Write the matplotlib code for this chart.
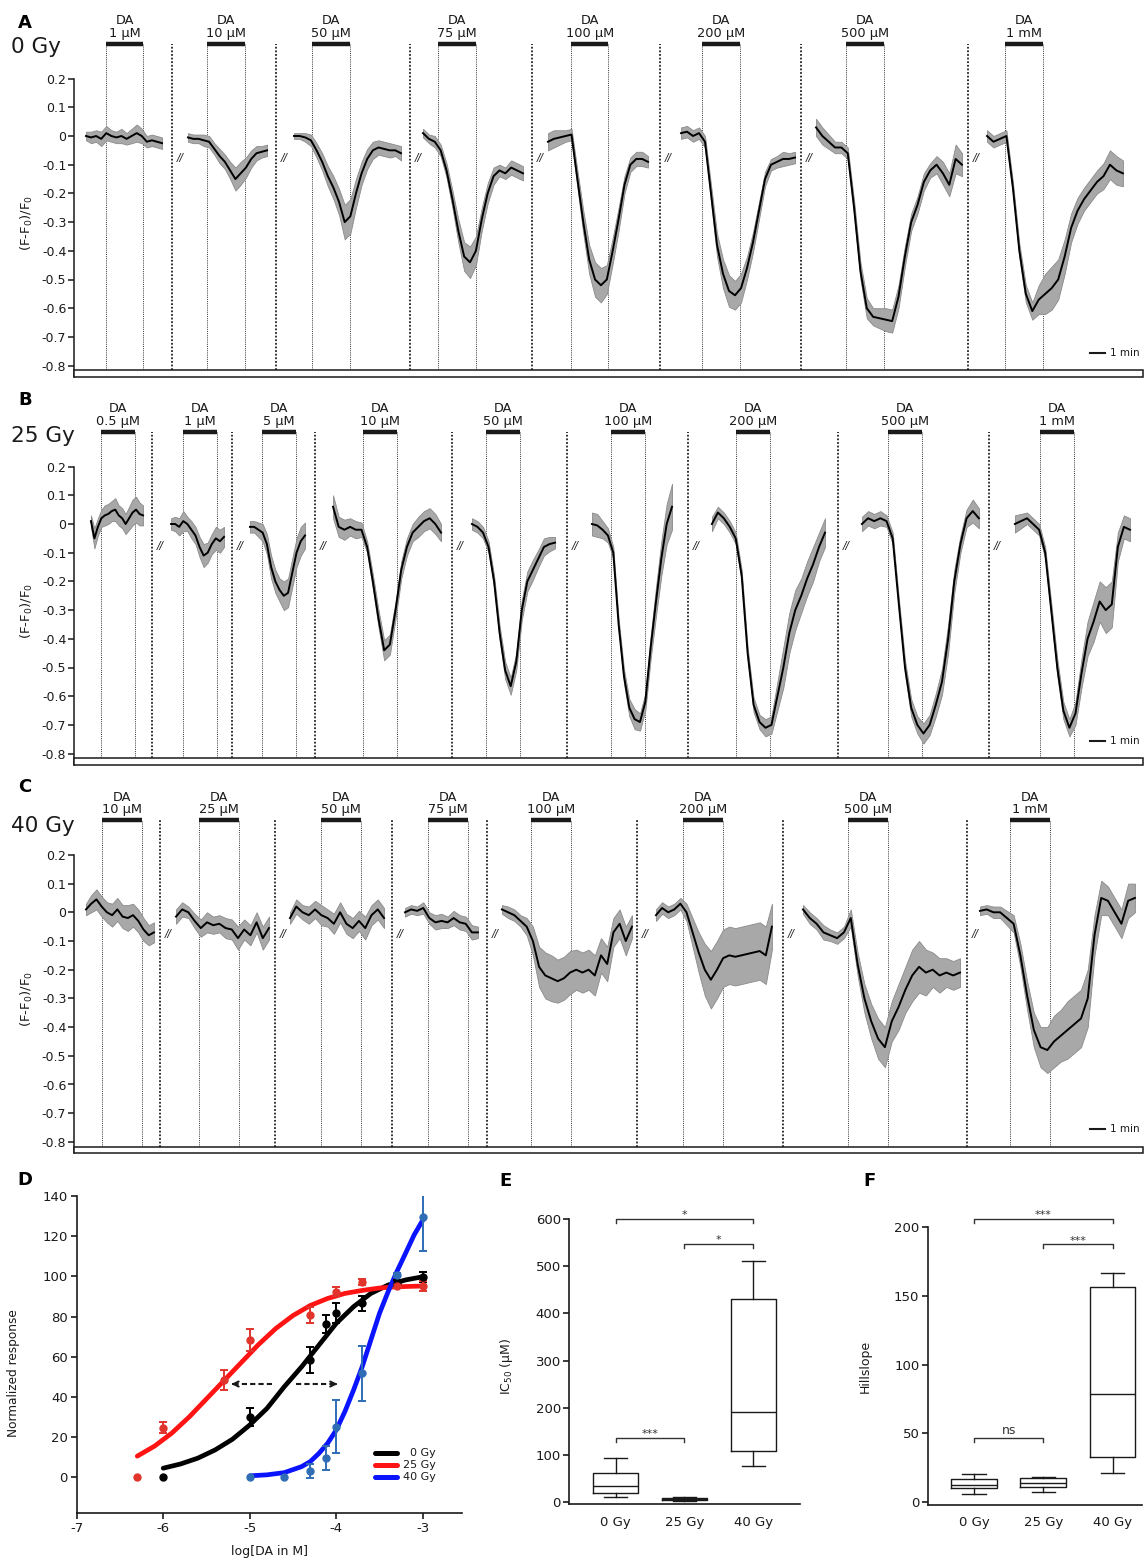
import numpy as np
import matplotlib
matplotlib.use("Agg")
import matplotlib.pyplot as plt
from matplotlib.patches import Rectangle

plt.rcParams['font.family'] = ['DejaVu Sans']
plt.rcParams['mathtext.default'] = 'regular'

W, H = 1147, 1562

# ---------------- Panel A : 0 Gy ----------------
a_conc = ["1 µM", "10 µM", "50 µM", "75 µM", "100 µM", "200 µM", "500 µM", "1 mM"]
a_trace_start = [0.8, 7.6, 14.67, 23.27, 31.6, 40.47, 49.47, 60.87]
a_trace_end = [5.87, 12.87, 21.8, 29.93, 38.27, 48.07, 59.2, 69.93]
a_da_on = [2.13, 8.87, 15.87, 24.27, 33.13, 41.87, 51.47, 62.07]
a_da_len = 2.5
a_cuts = [6.53, 13.47, 22.4, 30.53, 39.07, 48.47, 59.6]
a_mean = [
    [0, -0.005, 0.0, -0.01, 0.01, 0.0, -0.005, 0.0, -0.01, 0.0, 0.01, 0.0, -0.02, -0.015, -0.02, -0.025],
    [-0.005, -0.01, -0.01, -0.015, -0.02, -0.045, -0.07, -0.09, -0.12, -0.15, -0.13, -0.11, -0.08, -0.06, -0.055, -0.05],
    [0, 0, -0.005, -0.015, -0.05, -0.09, -0.14, -0.18, -0.23, -0.30, -0.28, -0.2, -0.13, -0.08, -0.05, -0.04, -0.045, -0.05, -0.05, -0.06],
    [0.01, -0.01, -0.02, -0.05, -0.12, -0.22, -0.33, -0.42, -0.44, -0.40, -0.29, -0.2, -0.14, -0.12, -0.13, -0.11, -0.12, -0.13],
    [-0.02, -0.01, -0.005, 0.0, 0.005, -0.15, -0.3, -0.43, -0.5, -0.52, -0.5, -0.4, -0.29, -0.17, -0.1, -0.08, -0.08, -0.09],
    [0.01, 0.015, 0.0, 0.01, -0.02, -0.2, -0.38, -0.48, -0.54, -0.555, -0.53, -0.46, -0.37, -0.26, -0.15, -0.1, -0.09, -0.08, -0.08, -0.075],
    [0.03, 0.0, -0.02, -0.04, -0.04, -0.06, -0.25, -0.47, -0.6, -0.63, -0.635, -0.64, -0.645, -0.56, -0.42, -0.3, -0.24, -0.16, -0.12, -0.1, -0.13, -0.17, -0.08, -0.1],
    [0.0, -0.02, -0.01, 0.0, -0.18, -0.4, -0.55, -0.61, -0.57, -0.55, -0.53, -0.5, -0.42, -0.32, -0.26, -0.22, -0.19, -0.16, -0.14, -0.1, -0.12, -0.13],
]
a_sem = [
    [0.015, 0.02, 0.02, 0.025, 0.025, 0.02, 0.02, 0.025, 0.02, 0.025, 0.03, 0.025, 0.02, 0.02, 0.02, 0.02],
    [0.015, 0.015, 0.015, 0.02, 0.02, 0.02, 0.025, 0.025, 0.03, 0.04, 0.04, 0.035, 0.03, 0.025, 0.02, 0.02],
    [0.01, 0.01, 0.015, 0.02, 0.025, 0.03, 0.035, 0.04, 0.045, 0.06, 0.06, 0.05, 0.04, 0.035, 0.03, 0.025, 0.025, 0.025, 0.02, 0.025],
    [0.015, 0.015, 0.02, 0.02, 0.025, 0.03, 0.04, 0.05, 0.055, 0.05, 0.04, 0.035, 0.03, 0.02, 0.02, 0.025, 0.025, 0.025],
    [0.03, 0.03, 0.025, 0.02, 0.02, 0.03, 0.04, 0.05, 0.06, 0.06, 0.05, 0.045, 0.04, 0.03, 0.025, 0.025, 0.025, 0.02],
    [0.02, 0.02, 0.02, 0.02, 0.02, 0.03, 0.04, 0.05, 0.055, 0.05, 0.05, 0.04, 0.035, 0.03, 0.025, 0.02, 0.02, 0.025, 0.02, 0.02],
    [0.03, 0.03, 0.025, 0.02, 0.02, 0.02, 0.025, 0.03, 0.035, 0.03, 0.035, 0.04, 0.04, 0.04, 0.035, 0.03, 0.03, 0.03, 0.025, 0.03, 0.04, 0.04, 0.05, 0.04],
    [0.02, 0.02, 0.02, 0.02, 0.02, 0.025, 0.03, 0.03, 0.05, 0.07, 0.075, 0.07, 0.06, 0.05, 0.045, 0.04, 0.04, 0.04, 0.045, 0.05, 0.05, 0.045],
]

# ---------------- Panel B : 25 Gy ----------------
b_conc = ["0.5 µM", "1 µM", "5 µM", "10 µM", "50 µM", "100 µM", "200 µM", "500 µM", "1 mM"]
b_trace_start = [1.13, 6.47, 11.73, 17.27, 26.53, 34.53, 42.53, 52.53, 62.73]
b_trace_end = [4.6, 10.0, 15.4, 24.47, 32.07, 39.87, 50.07, 60.33, 70.4]
b_da_on = [1.8, 7.27, 12.53, 19.27, 27.47, 35.8, 44.13, 54.27, 64.4]
b_da_len = 2.27
b_cuts = [5.2, 10.53, 16.07, 25.2, 32.87, 40.93, 50.93, 61.0]
b_mean = [
    [0.01, -0.05, -0.01, 0.02, 0.03, 0.035, 0.045, 0.05, 0.03, 0.02, 0.0, 0.02, 0.04, 0.05, 0.035, 0.03],
    [0.0, 0.0, -0.01, 0.01, 0.0, -0.02, -0.04, -0.08, -0.11, -0.1, -0.07, -0.05, -0.06, -0.045],
    [-0.01, -0.01, -0.02, -0.03, -0.07, -0.15, -0.2, -0.23, -0.25, -0.24, -0.17, -0.1, -0.06, -0.04],
    [0.06, -0.01, -0.02, -0.01, -0.02, -0.02, -0.08, -0.2, -0.33, -0.44, -0.42, -0.3, -0.16, -0.08, -0.03, -0.01, 0.01, 0.02, 0.0, -0.03],
    [0.0, -0.01, -0.03, -0.08, -0.2, -0.38, -0.51, -0.565, -0.48, -0.3, -0.2, -0.16, -0.12, -0.08, -0.07, -0.065],
    [0.0, -0.005, -0.02, -0.04, -0.1, -0.35, -0.53, -0.64, -0.68, -0.69, -0.62, -0.43, -0.27, -0.12, 0.0, 0.06],
    [0.0, 0.04, 0.02, -0.01, -0.05, -0.18, -0.45, -0.63, -0.69, -0.71, -0.7, -0.6, -0.5, -0.38, -0.3, -0.25, -0.19, -0.14, -0.08, -0.03],
    [0.0, 0.02, 0.01, 0.02, 0.01, -0.05, -0.28, -0.5, -0.64, -0.7, -0.73, -0.7, -0.63, -0.55, -0.4, -0.2, -0.07, 0.02, 0.045, 0.02],
    [0.0, 0.01, 0.02, 0.0, -0.02, -0.1, -0.3, -0.5, -0.65, -0.71, -0.66, -0.52, -0.4, -0.34, -0.27, -0.3, -0.28, -0.08, -0.01, -0.02],
]
b_sem = [
    [0.02, 0.035, 0.03, 0.03, 0.035, 0.035, 0.035, 0.04, 0.035, 0.035, 0.035, 0.04, 0.045, 0.045, 0.04, 0.035],
    [0.02, 0.025, 0.03, 0.035, 0.025, 0.03, 0.03, 0.035, 0.04, 0.035, 0.035, 0.04, 0.04, 0.035],
    [0.02, 0.02, 0.025, 0.03, 0.035, 0.04, 0.04, 0.04, 0.05, 0.05, 0.05, 0.05, 0.05, 0.045],
    [0.04, 0.035, 0.035, 0.03, 0.03, 0.025, 0.02, 0.025, 0.03, 0.035, 0.035, 0.03, 0.03, 0.03, 0.03, 0.035, 0.035, 0.035, 0.035, 0.03],
    [0.02, 0.02, 0.02, 0.02, 0.02, 0.025, 0.03, 0.03, 0.03, 0.035, 0.035, 0.035, 0.03, 0.03, 0.025, 0.02],
    [0.04, 0.04, 0.03, 0.025, 0.02, 0.02, 0.025, 0.03, 0.035, 0.03, 0.03, 0.04, 0.05, 0.06, 0.07, 0.08],
    [0.025, 0.02, 0.02, 0.02, 0.02, 0.02, 0.02, 0.025, 0.025, 0.03, 0.03, 0.05, 0.07, 0.07, 0.07, 0.06, 0.06, 0.06, 0.05, 0.05],
    [0.025, 0.025, 0.025, 0.025, 0.02, 0.02, 0.02, 0.025, 0.03, 0.03, 0.035, 0.035, 0.04, 0.045, 0.05, 0.04, 0.03, 0.03, 0.04, 0.035],
    [0.03, 0.025, 0.02, 0.02, 0.02, 0.02, 0.025, 0.03, 0.03, 0.03, 0.04, 0.05, 0.06, 0.07, 0.07, 0.08, 0.08, 0.05, 0.04, 0.04],
]

# ---------------- Panel C : 40 Gy ----------------
c_conc = ["10 µM", "25 µM", "50 µM", "75 µM", "100 µM", "200 µM", "500 µM", "1 mM"]
c_trace_start = [0.8, 6.8, 14.4, 22.07, 28.53, 38.8, 48.6, 60.4]
c_trace_end = [5.33, 13.0, 20.67, 26.93, 37.2, 46.53, 59.07, 70.73]
c_da_on = [1.87, 8.33, 16.47, 23.6, 30.47, 40.6, 51.6, 62.4]
c_da_len = 2.67
c_cuts = [5.73, 13.4, 21.2, 27.53, 37.53, 47.27, 59.53]
c_mean = [
    [0.01, 0.03, 0.045, 0.02, 0.0, -0.01, 0.01, -0.015, -0.02, -0.01, -0.03, -0.06, -0.08, -0.07],
    [-0.015, 0.01, 0.0, -0.03, -0.055, -0.035, -0.045, -0.04, -0.055, -0.06, -0.09, -0.06, -0.08, -0.035, -0.09, -0.055],
    [-0.02, 0.02, 0.0, -0.01, 0.01, -0.01, -0.02, -0.04, 0.0, -0.04, -0.055, -0.03, -0.055, -0.01, 0.01, -0.02],
    [0.0, 0.01, 0.005, 0.015, -0.02, -0.035, -0.03, -0.035, -0.02, -0.035, -0.04, -0.07, -0.07],
    [0.01, 0.0, -0.01, -0.03, -0.05, -0.1, -0.19, -0.22, -0.23, -0.24, -0.23, -0.21, -0.2, -0.21, -0.2, -0.22, -0.15, -0.18, -0.07, -0.04, -0.1, -0.05],
    [-0.01, 0.015, 0.0, 0.01, 0.03, 0.0, -0.07, -0.14, -0.2, -0.235, -0.2, -0.16, -0.15, -0.155, -0.15, -0.145, -0.14, -0.135, -0.15, -0.05],
    [0.01, -0.02, -0.04, -0.07, -0.08, -0.09, -0.07, -0.02, -0.18, -0.3, -0.38, -0.44, -0.47, -0.38, -0.33, -0.27, -0.22, -0.19, -0.21, -0.2, -0.22, -0.21, -0.22, -0.21],
    [0.005, 0.01, 0.0, 0.0, -0.02, -0.04, -0.15, -0.29, -0.41, -0.47, -0.48, -0.45, -0.43, -0.41, -0.39, -0.37, -0.3, -0.08, 0.05, 0.04, 0.0, -0.04, 0.04, 0.05],
]
c_sem = [
    [0.02, 0.03, 0.035, 0.035, 0.035, 0.04, 0.04, 0.04, 0.045, 0.04, 0.04, 0.04, 0.035, 0.035],
    [0.025, 0.025, 0.02, 0.025, 0.03, 0.035, 0.03, 0.03, 0.035, 0.035, 0.04, 0.035, 0.035, 0.035, 0.04, 0.04],
    [0.02, 0.025, 0.025, 0.03, 0.03, 0.035, 0.03, 0.035, 0.035, 0.035, 0.035, 0.035, 0.04, 0.035, 0.035, 0.035],
    [0.015, 0.015, 0.015, 0.02, 0.02, 0.025, 0.025, 0.02, 0.025, 0.025, 0.025, 0.025, 0.02],
    [0.015, 0.02, 0.02, 0.02, 0.03, 0.05, 0.07, 0.08, 0.08, 0.075, 0.075, 0.075, 0.07, 0.07, 0.07, 0.07, 0.06, 0.06, 0.05, 0.05, 0.05, 0.04],
    [0.02, 0.02, 0.02, 0.02, 0.02, 0.03, 0.05, 0.07, 0.09, 0.1, 0.1, 0.1, 0.1, 0.1, 0.1, 0.1, 0.1, 0.1, 0.1, 0.08],
    [0.015, 0.02, 0.02, 0.025, 0.02, 0.02, 0.02, 0.03, 0.04, 0.05, 0.06, 0.07, 0.07, 0.07, 0.08, 0.08, 0.09, 0.09, 0.08, 0.06, 0.06, 0.05, 0.05, 0.05],
    [0.015, 0.015, 0.02, 0.02, 0.025, 0.03, 0.04, 0.05, 0.06, 0.07, 0.08, 0.09, 0.09, 0.1, 0.1, 0.1, 0.1, 0.07, 0.06, 0.05, 0.05, 0.05, 0.06, 0.05],
]

# ---------------- Panel D : dose-response ----------------
d_logx_0gy = [-6, -5, -4.3, -4.12, -4, -3.7, -3.3, -3]
d_resp_0gy = [0, 29.9, 58.4, 76.3, 81.9, 86.6, 96.5, 99.8]
d_err_0gy = [0, 4.5, 6.5, 4.5, 5, 3.7, 1.5, 2.5]
d_logx_25gy = [-6.3, -6, -5.3, -5, -4.3, -4, -3.7, -3.3, -3]
d_resp_25gy = [0, 24.7, 48.4, 68.3, 80.8, 92.4, 97.3, 95, 95.2]
d_err_25gy = [0, 2.8, 5, 5.3, 4, 2.4, 1.5, 1, 2.5]
d_logx_40gy = [-5, -4.6, -4.3, -4.12, -4, -3.7, -3.3, -3]
d_resp_40gy = [0, 0, 3.2, 9.8, 25.2, 51.7, 100.7, 129.7]
d_err_40gy = [0, 0, 3.5, 6, 13.3, 13.8, 1, 17]
# fitted curves
fit_x_0gy = [-6, -5.8, -5.6, -5.4, -5.2, -5.0, -4.8, -4.6, -4.4, -4.2, -4.0, -3.8, -3.6, -3.4, -3.2, -3.0]
fit_y_0gy = [4.5, 6.6, 9.5, 13.6, 18.9, 26, 34.3, 45.1, 55, 65.8, 76.6, 84.9, 91.5, 95.7, 98.2, 99.8]
fit_x_25gy = [-6.3, -6.1, -5.9, -5.7, -5.5, -5.3, -5.1, -4.9, -4.7, -4.5, -4.3, -4.1, -3.9, -3.7, -3.5, -3.3, -3.0]
fit_y_25gy = [10.5, 15.5, 22, 30, 39, 48, 57, 66, 74, 80.5, 85.5, 89, 91.5, 93, 94.2, 94.8, 95.2]
fit_x_40gy = [-5.0, -4.8, -4.6, -4.4, -4.3, -4.2, -4.1, -4.0, -3.9, -3.8, -3.7, -3.6, -3.5, -3.4, -3.3, -3.2, -3.1, -3.0]
fit_y_40gy = [0.7, 1.2, 2.3, 5.3, 7.8, 11.9, 16.9, 23.5, 32.7, 43.4, 55, 68.3, 81.6, 92.4, 102.3, 111.4, 120.6, 128]

# ---------------- Panels E / F : box plots ----------------
groups = ["0 Gy", "25 Gy", "40 Gy"]
e_whislo = [12, 2.5, 77]
e_q1 = [20.5, 4, 108.7]
e_med = [35.3, 6, 191.3]
e_q3 = [62.8, 8.5, 429.9]
e_whishi = [93.2, 11, 510.4]
f_whislo = [5.8, 7.5, 21]
f_q1 = [10.2, 10.9, 32.9]
f_med = [12.6, 13.8, 78.4]
f_q3 = [17.2, 17.9, 156.5]
f_whishi = [20.3, 18.6, 166.6]

DARK = '#1a1a1a'
SHADE = '#a8a8a8'
SHADE_EDGE = '#8a8a8a'
X_END = 71.27
BAR_Y = 0.32
BAND_TOP, BAND_BOT = -0.817, -0.838


def px_axes(left, top, right, bottom):
    return fig.add_axes([left / W, 1 - bottom / H, (right - left) / W, (bottom - top) / H])


def draw_traces(ax, conc, t0, t1, on, da_len, cuts, means, sems):
    for k in range(len(conc)):
        m = np.array(means[k])
        s = np.array(sems[k])
        t = np.linspace(t0[k], t1[k], len(m))
        ax.fill_between(t, m - s, m + s, facecolor=SHADE, edgecolor=SHADE_EDGE, lw=0.6, zorder=2)
        ax.plot(t, m, color='black', lw=1.4, zorder=3)
        a, b = on[k], on[k] + da_len
        ax.plot([a, b], [BAR_Y, BAR_Y], color=DARK, lw=3.2, solid_capstyle='butt', clip_on=False)
        ax.vlines([a, b], BAND_TOP, BAR_Y, colors='#333333', linestyles=(0, (1, 1.2)), lw=0.7, zorder=1)
        ax.text((a + b) / 2, 0.357, conc[k], ha='center', va='center', fontsize=9.3, color=DARK)
        ax.text((a + b) / 2, 0.401, 'DA', ha='center', va='center', fontsize=9.3, color=DARK)
    for c in cuts:
        ax.vlines(c, BAND_TOP, BAR_Y, colors='#222222', linestyles=(0, (1, 1)), lw=1.3, zorder=1)
        ax.vlines(c, BAND_BOT, BAND_TOP, colors='#222222', lw=1.8)
        ax.text(c + 0.55, -0.075, '//', ha='center', va='center', fontsize=7.5, style='italic', color=DARK)
    ax.add_patch(Rectangle((0, BAND_BOT), X_END, BAND_TOP - BAND_BOT, facecolor='white',
                           edgecolor=DARK, lw=1.1, clip_on=False, zorder=4))
    # 1 min scale bar
    ax.plot([67.73, 68.73], [-0.756, -0.756], color=DARK, lw=1.5)
    ax.text(69.07, -0.756, '1 min', ha='left', va='center', fontsize=7.5, color=DARK)
    ax.set_xlim(0, X_END)
    ax.set_ylim(-0.84, 0.33)
    for sp in ['top', 'right', 'bottom']:
        ax.spines[sp].set_visible(False)
    ax.spines['left'].set_bounds(BAND_BOT, 0.2)
    ax.spines['left'].set_linewidth(1.1)
    ax.spines['left'].set_color(DARK)
    yt = [0.2, 0.1, 0, -0.1, -0.2, -0.3, -0.4, -0.5, -0.6, -0.7, -0.8]
    ax.set_yticks(yt)
    ax.set_yticklabels(['0' if v == 0 else f'{v:.1f}' for v in yt])
    ax.tick_params(axis='y', direction='out', length=4, width=1.1, pad=1.5, labelsize=9, colors=DARK)
    ax.set_xticks([])
    ax.set_ylabel('(F-F$_0$)/F$_0$', fontsize=9.5, color=DARK)
    ax.yaxis.set_label_coords(-0.0365, 0.46)


fig = plt.figure(figsize=(W / 100, H / 100), dpi=100)

trace_panels = [
    (136.0, a_conc, a_trace_start, a_trace_end, a_da_on, a_da_len, a_cuts, a_mean, a_sem, 'A', '0 Gy', 23, 47),
    (524.0, b_conc, b_trace_start, b_trace_end, b_da_on, b_da_len, b_cuts, b_mean, b_sem, 'B', '25 Gy', 400, 436),
    (912.3, c_conc, c_trace_start, c_trace_end, c_da_on, c_da_len, c_cuts, c_mean, c_sem, 'C', '40 Gy', 787, 826),
]
for zero, conc, t0, t1, on, dl, cuts, mean, sem, letter, dose, ly, dy in trace_panels:
    ax = px_axes(74, zero - 0.33 * 287, 1143, zero + 0.84 * 287)
    draw_traces(ax, conc, t0, t1, on, dl, cuts, mean, sem)
    fig.text(18 / W, 1 - ly / H, letter, fontsize=13, fontweight='bold', ha='left', va='center')
    fig.text(11 / W, 1 - dy / H, dose, fontsize=15.5, ha='left', va='center', color=DARK)

# ---------------- D ----------------
ax_d = px_axes(76.7, 1196, 461.7, 1513)
ax_d.set_xlim(-7, -2.55)
ax_d.set_ylim(-17.8, 140)
d_sets = [
    (fit_x_0gy, fit_y_0gy, d_logx_0gy, d_resp_0gy, d_err_0gy, 'black', 'black', '0 Gy'),
    (fit_x_25gy, fit_y_25gy, d_logx_25gy, d_resp_25gy, d_err_25gy, '#ff1414', '#e0342c', '25 Gy'),
    (fit_x_40gy, fit_y_40gy, d_logx_40gy, d_resp_40gy, d_err_40gy, '#0a14ff', '#2f6db5', '40 Gy'),
]
for fx, fy, x, y, e, ccol, pcol, lab in d_sets:
    ax_d.plot(fx, fy, color=ccol, lw=3.4, solid_capstyle='round', zorder=2)
    x = np.array(x); y = np.array(y); e = np.array(e)
    keep = e > 0
    ax_d.errorbar(x[keep], y[keep], yerr=e[keep], fmt='none', ecolor=pcol, elinewidth=1.4,
                  capsize=3, capthick=1.4, zorder=3)
    ax_d.plot(x, y, 'o', color=pcol, ms=5, zorder=4)

# dashed double arrow
ax_d.plot([-4.74, -5.2], [46.4, 46.4], color=DARK, lw=1.5, ls=(0, (2.5, 1.5)))
ax_d.plot([-4.47, -3.99], [46.4, 46.4], color=DARK, lw=1.5, ls=(0, (2.5, 1.5)))
ax_d.annotate('', xy=(-5.245, 46.4), xytext=(-5.15, 46.4),
              arrowprops=dict(arrowstyle='->', color=DARK, lw=1.5, mutation_scale=9))
ax_d.annotate('', xy=(-3.953, 46.4), xytext=(-4.05, 46.4),
              arrowprops=dict(arrowstyle='->', color=DARK, lw=1.5, mutation_scale=9))

# legend
for (fx, fy, x, y, e, ccol, pcol, lab), ly in zip(d_sets, [11.9, 6.1, 0.3]):
    ax_d.plot([-3.548, -3.297], [ly, ly], color=ccol, lw=3.6, solid_capstyle='round')
    ax_d.text(-2.853, ly, lab, ha='right', va='center', fontsize=8, color=DARK)

for sp in ['top', 'right']:
    ax_d.spines[sp].set_visible(False)
for sp in ['left', 'bottom']:
    ax_d.spines[sp].set_linewidth(1.2)
    ax_d.spines[sp].set_color(DARK)
ax_d.spines['left'].set_bounds(-17.8, 140)
ax_d.set_yticks([0, 20, 40, 60, 80, 100, 120, 140])
ax_d.set_xticks([-7, -6, -5, -4, -3])
ax_d.set_xticklabels(['-7', '-6', '-5', '-4', '-3'])
ax_d.tick_params(direction='out', length=4, width=1.2, pad=2.5, labelsize=9.5, colors=DARK)
ax_d.set_ylabel('Normalized response', fontsize=8.7, color=DARK)
ax_d.yaxis.set_label_coords(-0.147, 0.44)
ax_d.set_xlabel('log[DA in M]', fontsize=9, color=DARK)
ax_d.xaxis.set_label_coords(0.502, -0.102)
fig.text(17 / W, 1 - 1180 / H, 'D', fontsize=13, fontweight='bold', ha='left', va='center')


def box_panel(ax, lo, q1, med, q3, hi):
    stats = []
    for i in range(len(groups)):
        stats.append(dict(whislo=lo[i], q1=q1[i], med=med[i], q3=q3[i], whishi=hi[i], fliers=[]))
    lp = dict(color=DARK, lw=1.0)
    ax.bxp(stats, positions=[0, 1, 2], widths=0.66, capwidths=0.34, showfliers=False,
           boxprops=lp, medianprops=lp, whiskerprops=lp, capprops=lp)
    for sp in ['top', 'right']:
        ax.spines[sp].set_visible(False)
    for sp in ['left', 'bottom']:
        ax.spines[sp].set_linewidth(1.2)
        ax.spines[sp].set_color(DARK)
    ax.set_xticks([0, 1, 2])
    ax.set_xticklabels(groups)
    ax.tick_params(axis='x', length=0, pad=8, labelsize=9.5, colors=DARK)
    ax.tick_params(axis='y', direction='out', length=4, width=1.2, pad=2, labelsize=9.5, colors=DARK)


def bracket(ax, x1, x2, y, drop, label, fs, off):
    ax.plot([x1, x1, x2, x2], [y - drop, y, y, y - drop], color='#333333', lw=1.0, clip_on=False)
    ax.annotate(label, xy=((x1 + x2) / 2, y), xytext=(0, off), textcoords='offset points',
                ha='center', va='baseline', fontsize=fs, color='#333333', annotation_clip=False)


# ---------------- E ----------------
ax_e = px_axes(569.3, 1219, 800, 1504.4)
box_panel(ax_e, e_whislo, e_q1, e_med, e_q3, e_whishi)
ax_e.set_xlim(-0.674, 2.68)
ax_e.set_ylim(-4.5, 600)
ax_e.spines['left'].set_bounds(-4.5, 600)
ax_e.set_yticks([0, 100, 200, 300, 400, 500, 600])
ax_e.set_ylabel('IC$_{50}$ (µM)', fontsize=9, color=DARK)
ax_e.yaxis.set_label_coords(-0.235, 0.485)
bracket(ax_e, 0, 2, 601, 9, '*', 8, 0.5)
bracket(ax_e, 1, 2, 547, 9, '*', 8, 0.5)
bracket(ax_e, 0, 1, 137, 9, '***', 8, 0.5)
fig.text(499 / W, 1 - 1181 / H, 'E', fontsize=13, fontweight='bold', ha='left', va='center')

# ---------------- F ----------------
ax_f = px_axes(927.7, 1226.7, 1141.7, 1505.1)
box_panel(ax_f, f_whislo, f_q1, f_med, f_q3, f_whishi)
ax_f.set_xlim(-0.669, 2.42)
ax_f.set_ylim(-2, 200)
ax_f.spines['left'].set_bounds(-2, 200)
ax_f.set_yticks([0, 50, 100, 150, 200])
ax_f.set_ylabel('Hillslope', fontsize=9, color=DARK)
ax_f.yaxis.set_label_coords(-0.262, 0.497)
bracket(ax_f, 0, 2, 205.8, 3, '***', 8, 0.5)
bracket(ax_f, 1, 2, 187.2, 3, '***', 8, 0.5)
bracket(ax_f, 0, 1, 46.9, 3, 'ns', 9, 3)
fig.text(863 / W, 1 - 1181 / H, 'F', fontsize=13, fontweight='bold', ha='left', va='center')

fig.savefig('out.png', dpi=100)
